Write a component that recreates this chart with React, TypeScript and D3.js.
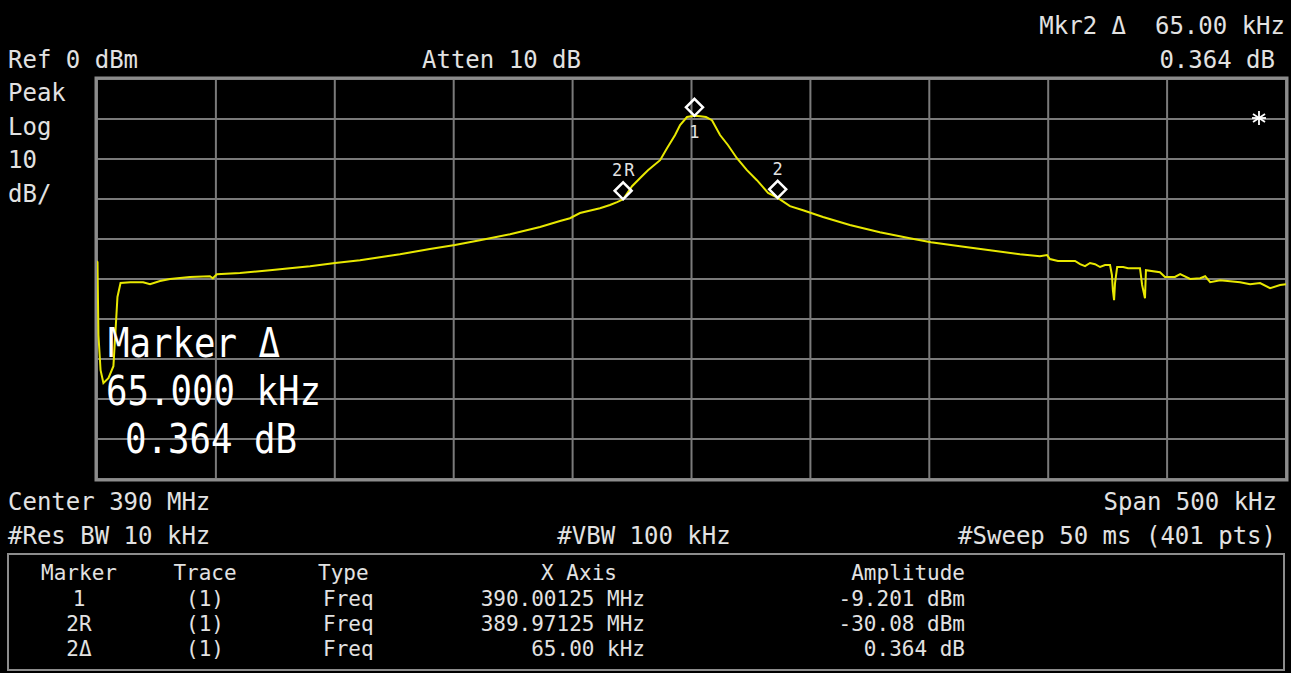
import React from "react";
import * as d3 from "d3";

// ---- data ----
const traceOffsetKHz = [
  -250, -249.8, -249.4, -248.5, -247.3, -245.2, -243.1, -242.2, -241.4, -240.1,
  -236, -230.6, -227.7, -223.5, -219.3, -210.9, -202.5, -201.3, -199.6, -189.9,
  -177.3, -168.9, -160.4, -149.9, -139.4, -122.6, -110, -99.5, -89, -76.3,
  -63.7, -55.3, -51.1, -46.9, -38.5, -34.3, -31.3, -28.75, -25, -21.7,
  -18.3, -13.2, -10.3, -6.9, -4.8, -1.9, 1.25, 3.6, 6.1, 8.6,
  12, 15.3, 19.1, 23.3, 27.5, 32.2, 36.25, 41.4, 46.9, 55.3,
  66.6, 79.2, 91.8, 100.7, 112.9, 125.5, 138.1, 146.5, 149.5, 150.7,
  154.1, 161.3, 163.4, 165.5, 167.6, 169.7, 171.8, 173.9, 176, 176.8,
  177.2, 177.7, 178.1, 179, 181.5, 183.6, 188.6, 189.5, 190.7, 191.1,
  197, 199.1, 203.3, 205.5, 209.7, 213.9, 216, 218.1, 222.3, 230.7,
  234.9, 239.1, 243.3, 247.5, 250,
];
const traceLevelDBm = [
  -45.5, -45.8, -64, -72.8, -76, -74.8, -71.8, -62.8, -54.5, -51,
  -50.8, -50.8, -51.3, -50.5, -50, -49.5, -49.3, -49.8, -48.8, -48.5,
  -47.8, -47.3, -46.8, -46, -45.3, -43.8, -42.5, -41.5, -40.3, -38.8,
  -37, -35.5, -34.8, -33.5, -32.3, -31.5, -30.8, -30.08, -26.8, -24.8,
  -22.8, -20.3, -17.3, -14, -11.5, -9.5, -9.201, -9.3, -9.5, -10.3,
  -14, -16.5, -19.8, -22.8, -25.3, -28.5, -29.716, -31.8, -32.8, -34.5,
  -36.5, -38.3, -39.8, -40.8, -41.8, -42.8, -43.8, -44.3, -44, -45,
  -45.5, -45.5, -46.3, -46.8, -46, -46.3, -47, -46.5, -46.5, -49,
  -52.8, -55.3, -51, -47, -47, -47.3, -47.3, -51.5, -54.8, -47.8,
  -48.3, -49.5, -49.5, -48.8, -50, -49.8, -49.3, -50.8, -50.3, -50.8,
  -51.3, -51, -52.3, -51.5, -51.3,
];

const markerNames = ["1", "2R", "2"];
const markerKHz = [1.25, -28.75, 36.25];
const markerDBm = [-9.201, -30.08, -29.716];

const tableHeaders = ["Marker", "Trace", "Type", "X Axis", "Amplitude"];
const tableMarker = ["1", "2R", "2\u0394"];
const tableTrace = ["(1)", "(1)", "(1)"];
const tableType = ["Freq", "Freq", "Freq"];
const tableXAxis = ["390.00125 MHz", "389.97125 MHz", "65.00 kHz"];
const tableAmplitude = ["-9.201 dBm", "-30.08 dBm", "0.364 dB"];

const SPAN_KHZ = 500;
const REF_DBM = 0;
const DB_PER_DIV = 10;
const DIVS = 10;

const W = 1291;
const H = 673;
const FONT = "'DejaVu Sans Mono', 'Liberation Mono', monospace";
const TXT = "#e2e2e2";

function T({ x, y, s, size = 24, anchor = "start", sx = 1, sy = 1, fill = TXT, ls = 0, weight = "normal" }: any) {
  return (
    <text
      transform={`translate(${x},${y}) scale(${sx},${sy})`}
      fontFamily={FONT}
      fontSize={size}
      textAnchor={anchor}
      fill={fill}
      letterSpacing={ls}
      fontWeight={weight}
      style={{ whiteSpace: "pre" }}
    >
      {s}
    </text>
  );
}

export default function App() {
  const L = 97, R = 1286, TOP = 79, BOT = 479;
  const x = d3.scaleLinear().domain([-SPAN_KHZ / 2, SPAN_KHZ / 2]).range([L, R]);
  const y = d3.scaleLinear().domain([REF_DBM, REF_DBM - DB_PER_DIV * DIVS]).range([TOP, BOT]);
  const vTicks = d3.range(0, DIVS + 1).map((i) => -SPAN_KHZ / 2 + (i * SPAN_KHZ) / DIVS);
  const hTicks = d3.range(0, DIVS + 1).map((i) => REF_DBM - i * DB_PER_DIV);
  const pts = traceOffsetKHz.map((f, i) => [f, traceLevelDBm[i]] as [number, number]);
  const line = d3.line<[number, number]>().x((d) => x(d[0])).y((d) => y(d[1]));
  const D = 8.5;

  const colX = [79, 205, 318, 645, 965];
  const rowY = [580, 606, 631, 656];

  return (
    <svg width={W} height={H} style={{ position: "absolute", left: 0, top: 0, background: "#000" }}>
      <rect x={0} y={0} width={W} height={H} fill="#000" />
      {/* header texts */}
      <T x={1285} y={34} s={"Mkr2 \u0394  65.00 kHz"} anchor="end" />
      <T x={8} y={68} s="Ref 0 dBm" />
      <T x={422} y={68} s="Atten 10 dB" />
      <T x={1275} y={68} s="0.364 dB" anchor="end" />
      <T x={8} y={101} s="Peak" />
      <T x={8} y={135} s="Log" />
      <T x={8} y={168} s="10" />
      <T x={8} y={202} s="dB/" />

      {/* grid */}
      <defs>
        <clipPath id="plotclip">
          <rect x={L} y={TOP} width={R - L} height={BOT - TOP} />
        </clipPath>
      </defs>
      {vTicks.map((t, i) => (
        <line key={"v" + i} x1={x(t)} x2={x(t)} y1={TOP} y2={BOT} stroke="#7a7a7a" strokeWidth={2} />
      ))}
      {hTicks.map((t, i) => (
        <line key={"h" + i} x1={L} x2={R} y1={y(t)} y2={y(t)} stroke="#7a7a7a" strokeWidth={2} />
      ))}
      <rect x={L - 1} y={TOP - 1} width={R - L + 2} height={BOT - TOP + 2} fill="none" stroke="#8c8c8c" strokeWidth={3} />

      {/* trace */}
      <path d={line(pts) || ""} fill="none" stroke="#e8e800" strokeWidth={2} clipPath="url(#plotclip)" />

      {/* markers */}
      {markerKHz.map((f, i) => {
        const cx = x(f);
        const by = y(markerDBm[i]);
        const cy = by - D;
        return (
          <g key={"m" + i}>
            <path
              d={`M${cx},${cy - D}L${cx + D},${cy}L${cx},${cy + D}L${cx - D},${cy}Z`}
              fill="none"
              stroke="#ffffff"
              strokeWidth={2.5}
            />
            {i === 0 ? (
              <T x={cx} y={by + 22} s={markerNames[i]} size={17} anchor="middle" />
            ) : (
              <T x={cx + 1} y={cy - D - 6} s={markerNames[i]} size={17} anchor="middle" ls={2} />
            )}
          </g>
        );
      })}

      {/* asterisk */}
      <g stroke="#ffffff" strokeWidth={1.8}>
        <line x1={1259} x2={1259} y1={111} y2={125} />
        <line x1={1253} x2={1265} y1={114} y2={122} />
        <line x1={1253} x2={1265} y1={122} y2={114} />
        <line x1={1252} x2={1266} y1={118} y2={118} />
      </g>

      {/* big marker readout */}
      <T x={108} y={357} s={"Marker \u0394"} size={34} sx={1.05} sy={1.2} fill="#ffffff" />
      <T x={106} y={405} s="65.000 kHz" size={34} sx={1.05} sy={1.2} fill="#ffffff" />
      <T x={125} y={453} s="0.364 dB" size={34} sx={1.05} sy={1.2} fill="#ffffff" />

      {/* footer */}
      <T x={8} y={510} s="Center 390 MHz" />
      <T x={1277} y={510} s="Span 500 kHz" anchor="end" />
      <T x={8} y={544} s="#Res BW 10 kHz" />
      <T x={644} y={544} s="#VBW 100 kHz" anchor="middle" />
      <T x={1276} y={544} s="#Sweep 50 ms (401 pts)" anchor="end" />

      {/* table */}
      <rect x={8} y={554} width={1276} height={116} fill="none" stroke="#8c8c8c" strokeWidth={2} />
      <T x={colX[0]} y={rowY[0]} s={tableHeaders[0]} size={21} anchor="middle" />
      <T x={colX[1]} y={rowY[0]} s={tableHeaders[1]} size={21} anchor="middle" />
      <T x={colX[2]} y={rowY[0]} s={tableHeaders[2]} size={21} />
      <T x={579} y={rowY[0]} s={tableHeaders[3]} size={21} anchor="middle" />
      <T x={colX[4]} y={rowY[0]} s={tableHeaders[4]} size={21} anchor="end" />
      {tableMarker.map((m, i) => (
        <g key={"r" + i}>
          <T x={colX[0]} y={rowY[i + 1]} s={m} size={21} anchor="middle" />
          <T x={colX[1]} y={rowY[i + 1]} s={tableTrace[i]} size={21} anchor="middle" />
          <T x={colX[2] + 5} y={rowY[i + 1]} s={tableType[i]} size={21} />
          <T x={colX[3]} y={rowY[i + 1]} s={tableXAxis[i]} size={21} anchor="end" />
          <T x={colX[4]} y={rowY[i + 1]} s={tableAmplitude[i]} size={21} anchor="end" />
        </g>
      ))}
    </svg>
  );
}
